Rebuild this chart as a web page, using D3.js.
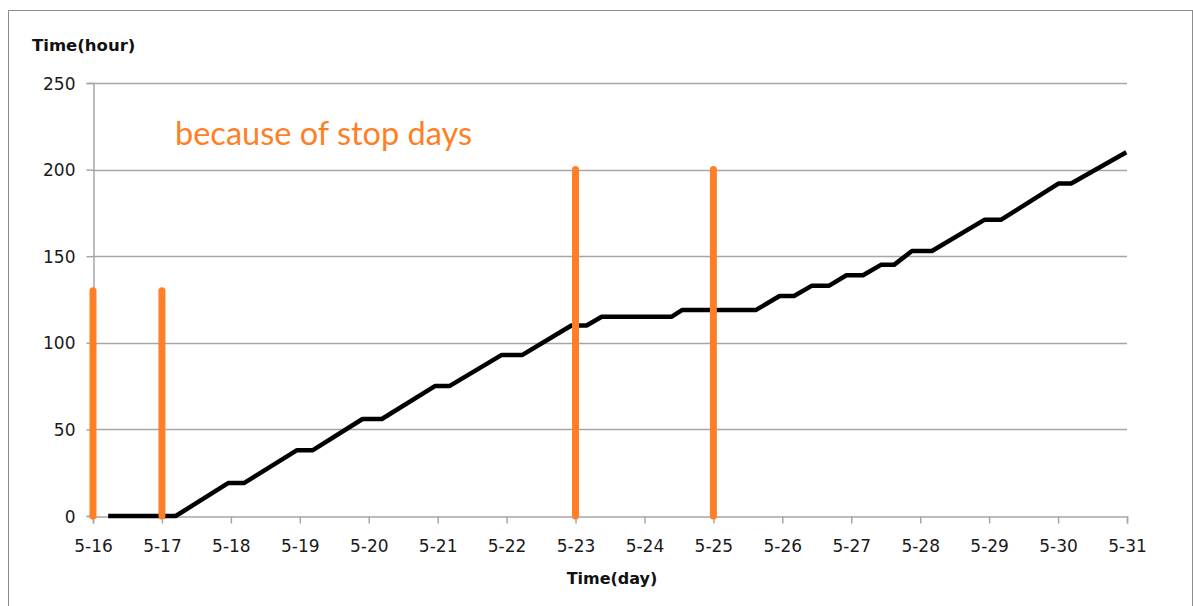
<!DOCTYPE html>
<html>
<head>
<meta charset="utf-8">
<script src="https://cdn.jsdelivr.net/npm/d3@7"></script>
<style>
    body { margin: 0; background: #fff; }
    svg { display: block; }
</style>
</head>
<body>
<div id="chart"><svg width="1193" height="606"></svg></div>
<script>
// cumulative running time (x = day of May, y = hours)
var lineDays = [16.22, 17.2, 17.96, 18.19, 18.96, 19.19, 19.91, 20.19, 20.96, 21.17,
    21.93, 22.23, 22.94, 23.16, 23.38, 24.39, 24.55, 25.62, 25.96, 26.17,
    26.43, 26.68, 26.93, 27.17, 27.43, 27.62, 27.88, 28.17, 28.93, 29.17,
    30.01, 30.19, 30.99];
var lineHours = [0, 0, 19, 19, 38, 38, 56, 56, 75, 75,
    93, 93, 110, 110, 115, 115, 119, 119, 127, 127,
    133, 133, 139, 139, 145, 145, 153, 153, 171, 171,
    192, 192, 210];

// orange markers for the stop days
var stopDays = [16, 17, 23, 25];
var stopHeights = [130, 130, 200, 200];

var dayTicks = d3.range(16, 32);
var dayLabels = ['5-16', '5-17', '5-18', '5-19', '5-20', '5-21', '5-22', '5-23',
    '5-24', '5-25', '5-26', '5-27', '5-28', '5-29', '5-30', '5-31'];
var hourTicks = [0, 50, 100, 150, 200, 250];

var note = 'because of stop days';
var yTitle = 'Time(hour)';
var xTitle = 'Time(day)';

(function () {
    var svg = d3.select('#chart').select('svg'),
        w = +svg.attr('width'),
        h = +svg.attr('height');

    var orange = '#ff7f27';
    var gridColor = '#a6a6a6';
    var tickFont = '"DejaVu Sans", Verdana, sans-serif';

    // outer frame
    svg.append('rect')
        .attr('x', 8.5).attr('y', 10.5)
        .attr('width', w - 9).attr('height', h)
        .attr('fill', 'none')
        .attr('stroke', '#8c8c8c')
        .attr('stroke-width', 1);

    var xScale = d3.scaleLinear().domain([16, 31]).range([93, 1127]);
    var yScale = d3.scaleLinear().domain([0, 250]).range([516, 83]);

    // horizontal grid lines
    svg.selectAll('.grid')
        .data(hourTicks.filter(function (d) { return d > 0; }))
        .enter()
        .append('line')
        .attr('class', 'grid')
        .attr('x1', xScale(16)).attr('x2', xScale(31))
        .attr('y1', function (d) { return Math.round(yScale(d)) + 0.5; })
        .attr('y2', function (d) { return Math.round(yScale(d)) + 0.5; })
        .attr('stroke', gridColor)
        .attr('stroke-width', 1.5);

    // y axis
    var yAxis = d3.axisLeft(yScale)
        .tickValues(hourTicks)
        .tickSize(7)
        .tickPadding(11);
    var yAxisGroup = svg.append('g')
        .attr('transform', 'translate(' + (xScale(16) + 0.5) + ',0)')
        .call(yAxis);

    // x axis
    var xAxis = d3.axisBottom(xScale)
        .tickValues(dayTicks)
        .tickFormat(function (d, i) { return dayLabels[i]; })
        .tickSize(7)
        .tickPadding(16);
    var xAxisGroup = svg.append('g')
        .attr('transform', 'translate(0,' + (Math.round(yScale(0)) + 0.5) + ')')
        .call(xAxis);

    [yAxisGroup, xAxisGroup].forEach(function (g) {
        g.select('.domain').attr('stroke', gridColor).attr('stroke-width', 1.5);
        g.selectAll('.tick line').attr('stroke', gridColor).attr('stroke-width', 1.5);
        g.selectAll('.tick text')
            .attr('fill', '#1a1a1a')
            .style('font-family', tickFont)
            .style('font-size', '17px');
    });
    yAxisGroup.selectAll('.tick text').attr('dy', '0.36em');

    // cumulative hours line
    var points = lineDays.map(function (d, i) { return [d, lineHours[i]]; });
    var line = d3.line()
        .x(function (d) { return xScale(d[0]); })
        .y(function (d) { return yScale(d[1]); });

    svg.append('path')
        .datum(points)
        .attr('d', line)
        .attr('fill', 'none')
        .attr('stroke', '#000')
        .attr('stroke-width', 4.5)
        .attr('stroke-linejoin', 'round')
        .attr('stroke-linecap', 'butt');

    // stop day markers
    svg.selectAll('.stop')
        .data(stopDays)
        .enter()
        .append('line')
        .attr('class', 'stop')
        .attr('x1', function (d) { return xScale(d); })
        .attr('x2', function (d) { return xScale(d); })
        .attr('y1', yScale(0))
        .attr('y2', function (d, i) { return yScale(stopHeights[i]); })
        .attr('stroke', orange)
        .attr('stroke-width', 7)
        .attr('stroke-linecap', 'round');

    // annotation
    svg.append('text')
        .attr('x', 175).attr('y', 145)
        .attr('fill', orange)
        .style('font-family', 'Lato, "Open Sans", sans-serif')
        .style('font-size', '32.5px')
        .text(note);

    // axis titles
    svg.append('text')
        .attr('x', 32).attr('y', 51)
        .attr('fill', '#111')
        .style('font-family', tickFont)
        .style('font-weight', 'bold')
        .style('font-size', '16.5px')
        .text(yTitle);

    svg.append('text')
        .attr('x', xScale(23.5) + 2).attr('y', 584)
        .attr('text-anchor', 'middle')
        .attr('fill', '#111')
        .style('font-family', tickFont)
        .style('font-weight', 'bold')
        .style('font-size', '16px')
        .text(xTitle);
})();
</script>
</body>
</html>
